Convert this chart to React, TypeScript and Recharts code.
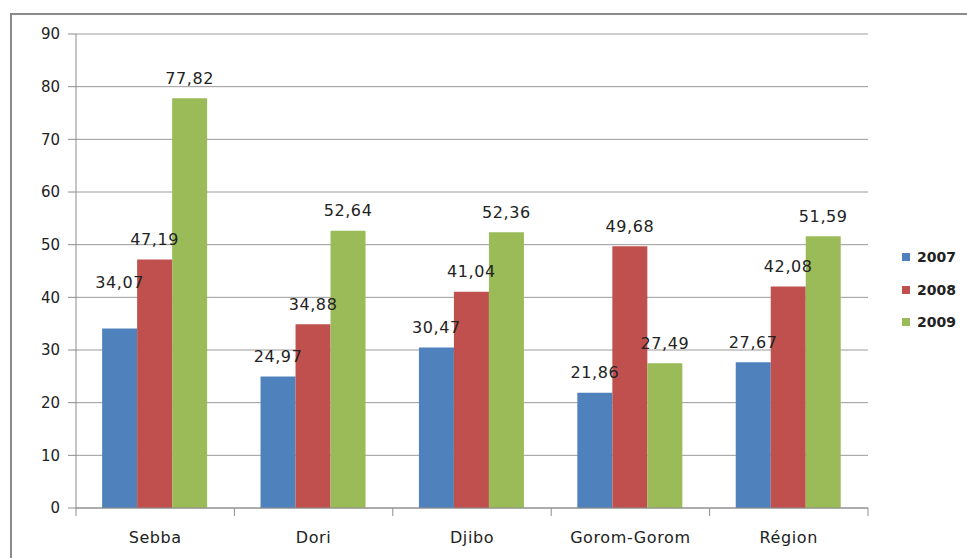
import React from 'react';
import { BarChart, Bar, XAxis, YAxis, CartesianGrid, Legend, LabelList } from 'recharts';

const regions = ['Sebba', 'Dori', 'Djibo', 'Gorom-Gorom', 'Région'];
const values2007 = [34.07, 24.97, 30.47, 21.86, 27.67];
const values2008 = [47.19, 34.88, 41.04, 49.68, 42.08];
const values2009 = [77.82, 52.64, 52.36, 27.49, 51.59];
const yTicks = [0, 10, 20, 30, 40, 50, 60, 70, 80, 90];

const series = [
  { key: 'y2007', name: '2007', color: '#4F81BD' },
  { key: 'y2008', name: '2008', color: '#C0504D' },
  { key: 'y2009', name: '2009', color: '#9BBB59' },
];

const chartData = regions.map((name, i) => ({
  name,
  y2007: values2007[i],
  y2008: values2008[i],
  y2009: values2009[i],
}));

const FONT = '"DejaVu Sans", Verdana, sans-serif';
const AXIS_GRAY = '#8c8c8c';

const fmt = (v: any) => Number(v).toFixed(2).replace('.', ',');

// value label above each bar; the first Sebba label sits higher to clear its neighbour
const makeLabel = (seriesKey: string) => (props: any) => {
  const { x, y, width, value, index } = props;
  const lift = seriesKey === 'y2007' && index === 0 ? 46 : 20;
  return (
    <text
      x={x + width / 2}
      y={y - lift}
      textAnchor="middle"
      dominantBaseline="central"
      fontFamily={FONT}
      fontSize={16}
      letterSpacing={0.6}
      fill="#222"
    >
      {fmt(value)}
    </text>
  );
};

// category label plus tick marks on the category boundaries
const CategoryTick = (props: any) => {
  const { x, y, payload, index, visibleTicksCount } = props;
  const half = payload.offset || 0;
  const isLast = index === visibleTicksCount - 1;
  return (
    <g>
      <line x1={x - half} x2={x - half} y1={y} y2={y + 8} stroke={AXIS_GRAY} />
      {isLast && <line x1={x + half} x2={x + half} y1={y} y2={y + 8} stroke={AXIS_GRAY} />}
      <text
        x={x}
        y={y + 29}
        textAnchor="middle"
        dominantBaseline="central"
        fontFamily={FONT}
        fontSize={16}
        letterSpacing={0.6}
        fill="#222"
      >
        {payload.value}
      </text>
    </g>
  );
};

const LegendBox = () => (
  <div style={{ fontFamily: FONT }}>
    {series.map((s) => (
      <div key={s.key} style={{ display: 'flex', alignItems: 'center', height: 32.5 }}>
        <span style={{ width: 8, height: 8, background: s.color, display: 'inline-block', marginRight: 7 }} />
        <span style={{ fontSize: 14, fontWeight: 'bold', color: '#222' }}>{s.name}</span>
      </div>
    ))}
  </div>
);

export default function App() {
  return (
    <div style={{ position: 'absolute', left: 0, top: 0, width: 967, height: 558, overflow: 'hidden', background: '#fff' }}>
      <div
        style={{
          position: 'absolute',
          left: 10,
          top: 13,
          width: 1000,
          height: 600,
          borderLeft: '2px solid #8a8a8a',
          borderTop: '2px solid #8a8a8a',
        }}
      />
      <BarChart
        width={967}
        height={558}
        data={chartData}
        margin={{ top: 34, right: 29, left: 0, bottom: 20 }}
        barCategoryGap="16.5%"
        barGap={0}
        style={{ position: 'absolute', left: 0, top: 0 }}
      >
        <CartesianGrid vertical={false} stroke="#9a9a9a" />
        <XAxis
          dataKey="name"
          height={30}
          tickLine={false}
          tickSize={0}
          tickMargin={0}
          axisLine={{ stroke: AXIS_GRAY }}
          tick={<CategoryTick />}
          interval={0}
        />
        <YAxis
          width={76}
          domain={[0, 90]}
          ticks={yTicks}
          interval={0}
          tickSize={8}
          tickMargin={8}
          axisLine={{ stroke: AXIS_GRAY }}
          tickLine={{ stroke: AXIS_GRAY }}
          tick={{ fontFamily: FONT, fontSize: 15, fill: '#222' }}
        />
        <Legend
          layout="vertical"
          align="right"
          verticalAlign="top"
          content={<LegendBox />}
          wrapperStyle={{ left: 902, top: 241, width: 70 }}
        />
        {series.map((s) => (
          <Bar key={s.key} dataKey={s.key} name={s.name} fill={s.color} isAnimationActive={false}>
            <LabelList dataKey={s.key} content={makeLabel(s.key)} />
          </Bar>
        ))}
      </BarChart>
    </div>
  );
}
